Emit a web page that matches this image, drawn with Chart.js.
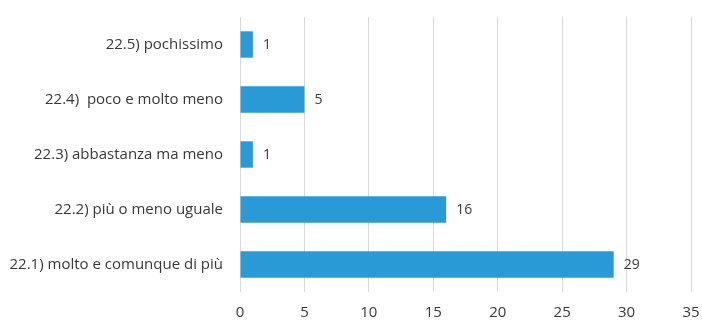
<!DOCTYPE html>
<html>
<head>
<meta charset="utf-8">
<script src="https://cdn.jsdelivr.net/npm/chart.js@4.4.0/dist/chart.umd.min.js"></script>
<style>
  html, body { margin: 0; padding: 0; background: #fff; }
  #wrap { width: 702px; height: 322px; }
</style>
</head>
<body>
<div id="wrap"><canvas id="chart"></canvas></div>
<script>
// Chart data
const categories = [
    "22.5) pochissimo",
    "22.4)  poco e molto meno",
    "22.3) abbastanza ma meno",
    "22.2) più o meno uguale",
    "22.1) molto e comunque di più"
];
const values = [1, 5, 1, 16, 29];
const xTicks = [0, 5, 10, 15, 20, 25, 30, 35];

const fontFamily = "'Open Sans', sans-serif";
const textColor = "#383838";

// Draw value labels next to each bar
const valueLabels = {
    id: "valueLabels",
    afterDatasetsDraw(chart) {
        const ctx = chart.ctx;
        const meta = chart.getDatasetMeta(0);
        ctx.save();
        ctx.font = "14px " + fontFamily;
        ctx.fillStyle = textColor;
        ctx.textAlign = "left";
        ctx.textBaseline = "middle";
        meta.data.forEach((bar, i) => {
            ctx.fillText(values[i], bar.x + 10, bar.y + 1);
        });
        ctx.restore();
    }
};

new Chart(document.getElementById("chart"), {
    type: "bar",
    data: {
        labels: categories,
        datasets: [{
            data: values,
            backgroundColor: "#2a9ad6",
            categoryPercentage: 1.0,
            barPercentage: 0.48
        }]
    },
    options: {
        indexAxis: "y",
        responsive: true,
        maintainAspectRatio: false,
        animation: false,
        layout: { padding: { top: 17, right: 11, bottom: 0, left: 0 } },
        plugins: {
            legend: { display: false },
            tooltip: { enabled: false }
        },
        scales: {
            x: {
                min: xTicks[0],
                max: xTicks[xTicks.length - 1],
                afterBuildTicks: (axis) => {
                    axis.ticks = xTicks.map(v => ({ value: v }));
                },
                afterFit: (axis) => {
                    axis.height = 30;
                    axis.paddingLeft = 0;
                    axis.paddingRight = 0;
                },
                grid: { color: "#d9d9d9", lineWidth: 1, drawTicks: false },
                border: { display: false },
                ticks: {
                    color: textColor,
                    font: { family: fontFamily, size: 15 },
                    padding: 12
                }
            },
            y: {
                afterFit: (axis) => {
                    axis.width = 240;
                    axis.paddingTop = 0;
                    axis.paddingBottom = 0;
                },
                grid: { display: false, drawTicks: false },
                border: { display: false },
                ticks: {
                    color: textColor,
                    font: { family: fontFamily, size: 15 },
                    padding: 17
                }
            }
        }
    },
    plugins: [valueLabels]
});
</script>
</body>
</html>
